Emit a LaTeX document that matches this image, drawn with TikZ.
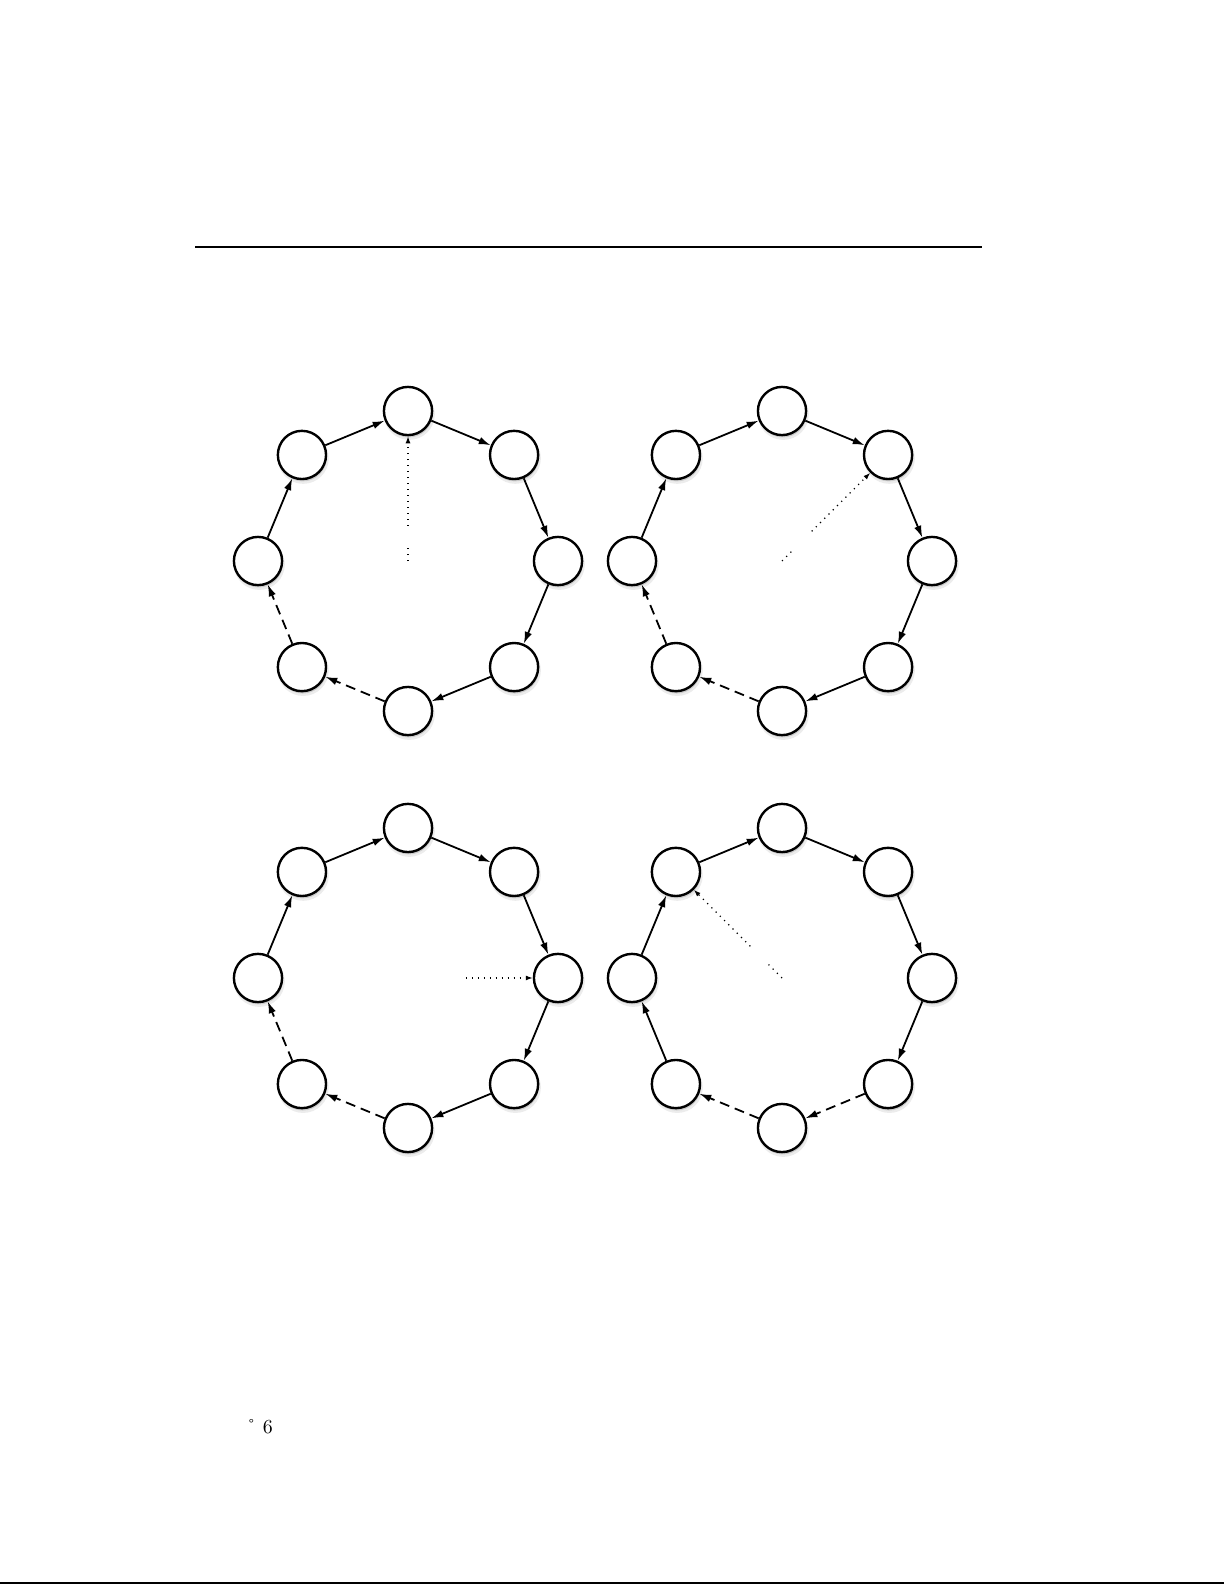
\documentclass[tikz,border=0pt]{standalone}
\usepackage{tikz}
\usetikzlibrary{arrows.meta,shadows}

\tikzset{
  peer/.style={draw,circle,fill=white,line width=1.2pt,minimum size=0.85cm,inner sep=0pt,
    drop shadow={shadow xshift=0.6pt,shadow yshift=-1.6pt,shadow scale=1.06,opacity=0.15},
    drop shadow={shadow xshift=0.4pt,shadow yshift=-1.2pt,opacity=0.3}},
  link/.style={line width=0.9pt,-{Latex[length=6pt,width=3.8pt]}},
  lost/.style={link,dash pattern=on 5pt off 3pt},
  trail/.style={line width=0.6pt,dash pattern=on 0.6pt off 2.4pt},
  finger/.style={trail,-{Latex[length=3.5pt,width=2.5pt]}}
}

\begin{document}
\begin{tikzpicture}
  \useasboundingbox (0,0) rectangle (21.608,27.958);
  \draw[line width=1bp] (3.44,23.601) -- (17.32,23.601);
  \draw[line width=1bp] (0,0.035) -- (21.59,0.035);

  \coordinate (cA) at (7.197,18.062);
  \coordinate (cB) at (13.794,18.062);
  \coordinate (cC) at (7.197,10.707);
  \coordinate (cD) at (13.794,10.707);

  \foreach \ring in {A,B,C,D}
    \foreach \i in {0,...,7}
      \node[peer] (\ring\i) at ([shift={(90-45*\i:2.646)}]c\ring) {};

  \foreach \ring in {A,B,C}{
    \foreach \i/\j in {0/1,1/2,2/3,3/4,6/7,7/0}
      \draw[link] (\ring\i) -- (\ring\j);
    \foreach \i/\j in {4/5,5/6}
      \draw[lost] (\ring\i) -- (\ring\j);
  }
  \foreach \i/\j in {0/1,1/2,2/3,5/6,6/7,7/0}
    \draw[link] (D\i) -- (D\j);
  \foreach \i/\j in {3/4,4/5}
    \draw[lost] (D\i) -- (D\j);

  \coordinate (pA) at ([shift={(90:0.27)}]cA);
  \coordinate (qA) at ([shift={(90:0.62)}]cA);
  \draw[trail] (cA) -- (pA);
  \draw[finger] (qA) -- (A0);

  \coordinate (pB) at ([shift={(45:0.29)}]cB);
  \coordinate (qB) at ([shift={(45:0.74)}]cB);
  \draw[trail] (cB) -- (pB);
  \draw[finger] (qB) -- (B1);

  \coordinate (qC) at ([shift={(0:1.02)}]cC);
  \draw[finger] (qC) -- (C2);

  \coordinate (pD) at ([shift={(135:0.335)}]cD);
  \coordinate (qD) at ([shift={(135:0.79)}]cD);
  \draw[trail] (cD) -- (pD);
  \draw[finger] (qD) -- (D7);

  \node[anchor=base] (page) at (4.58,2.681) {\r{} 6};
\end{tikzpicture}
\end{document}
